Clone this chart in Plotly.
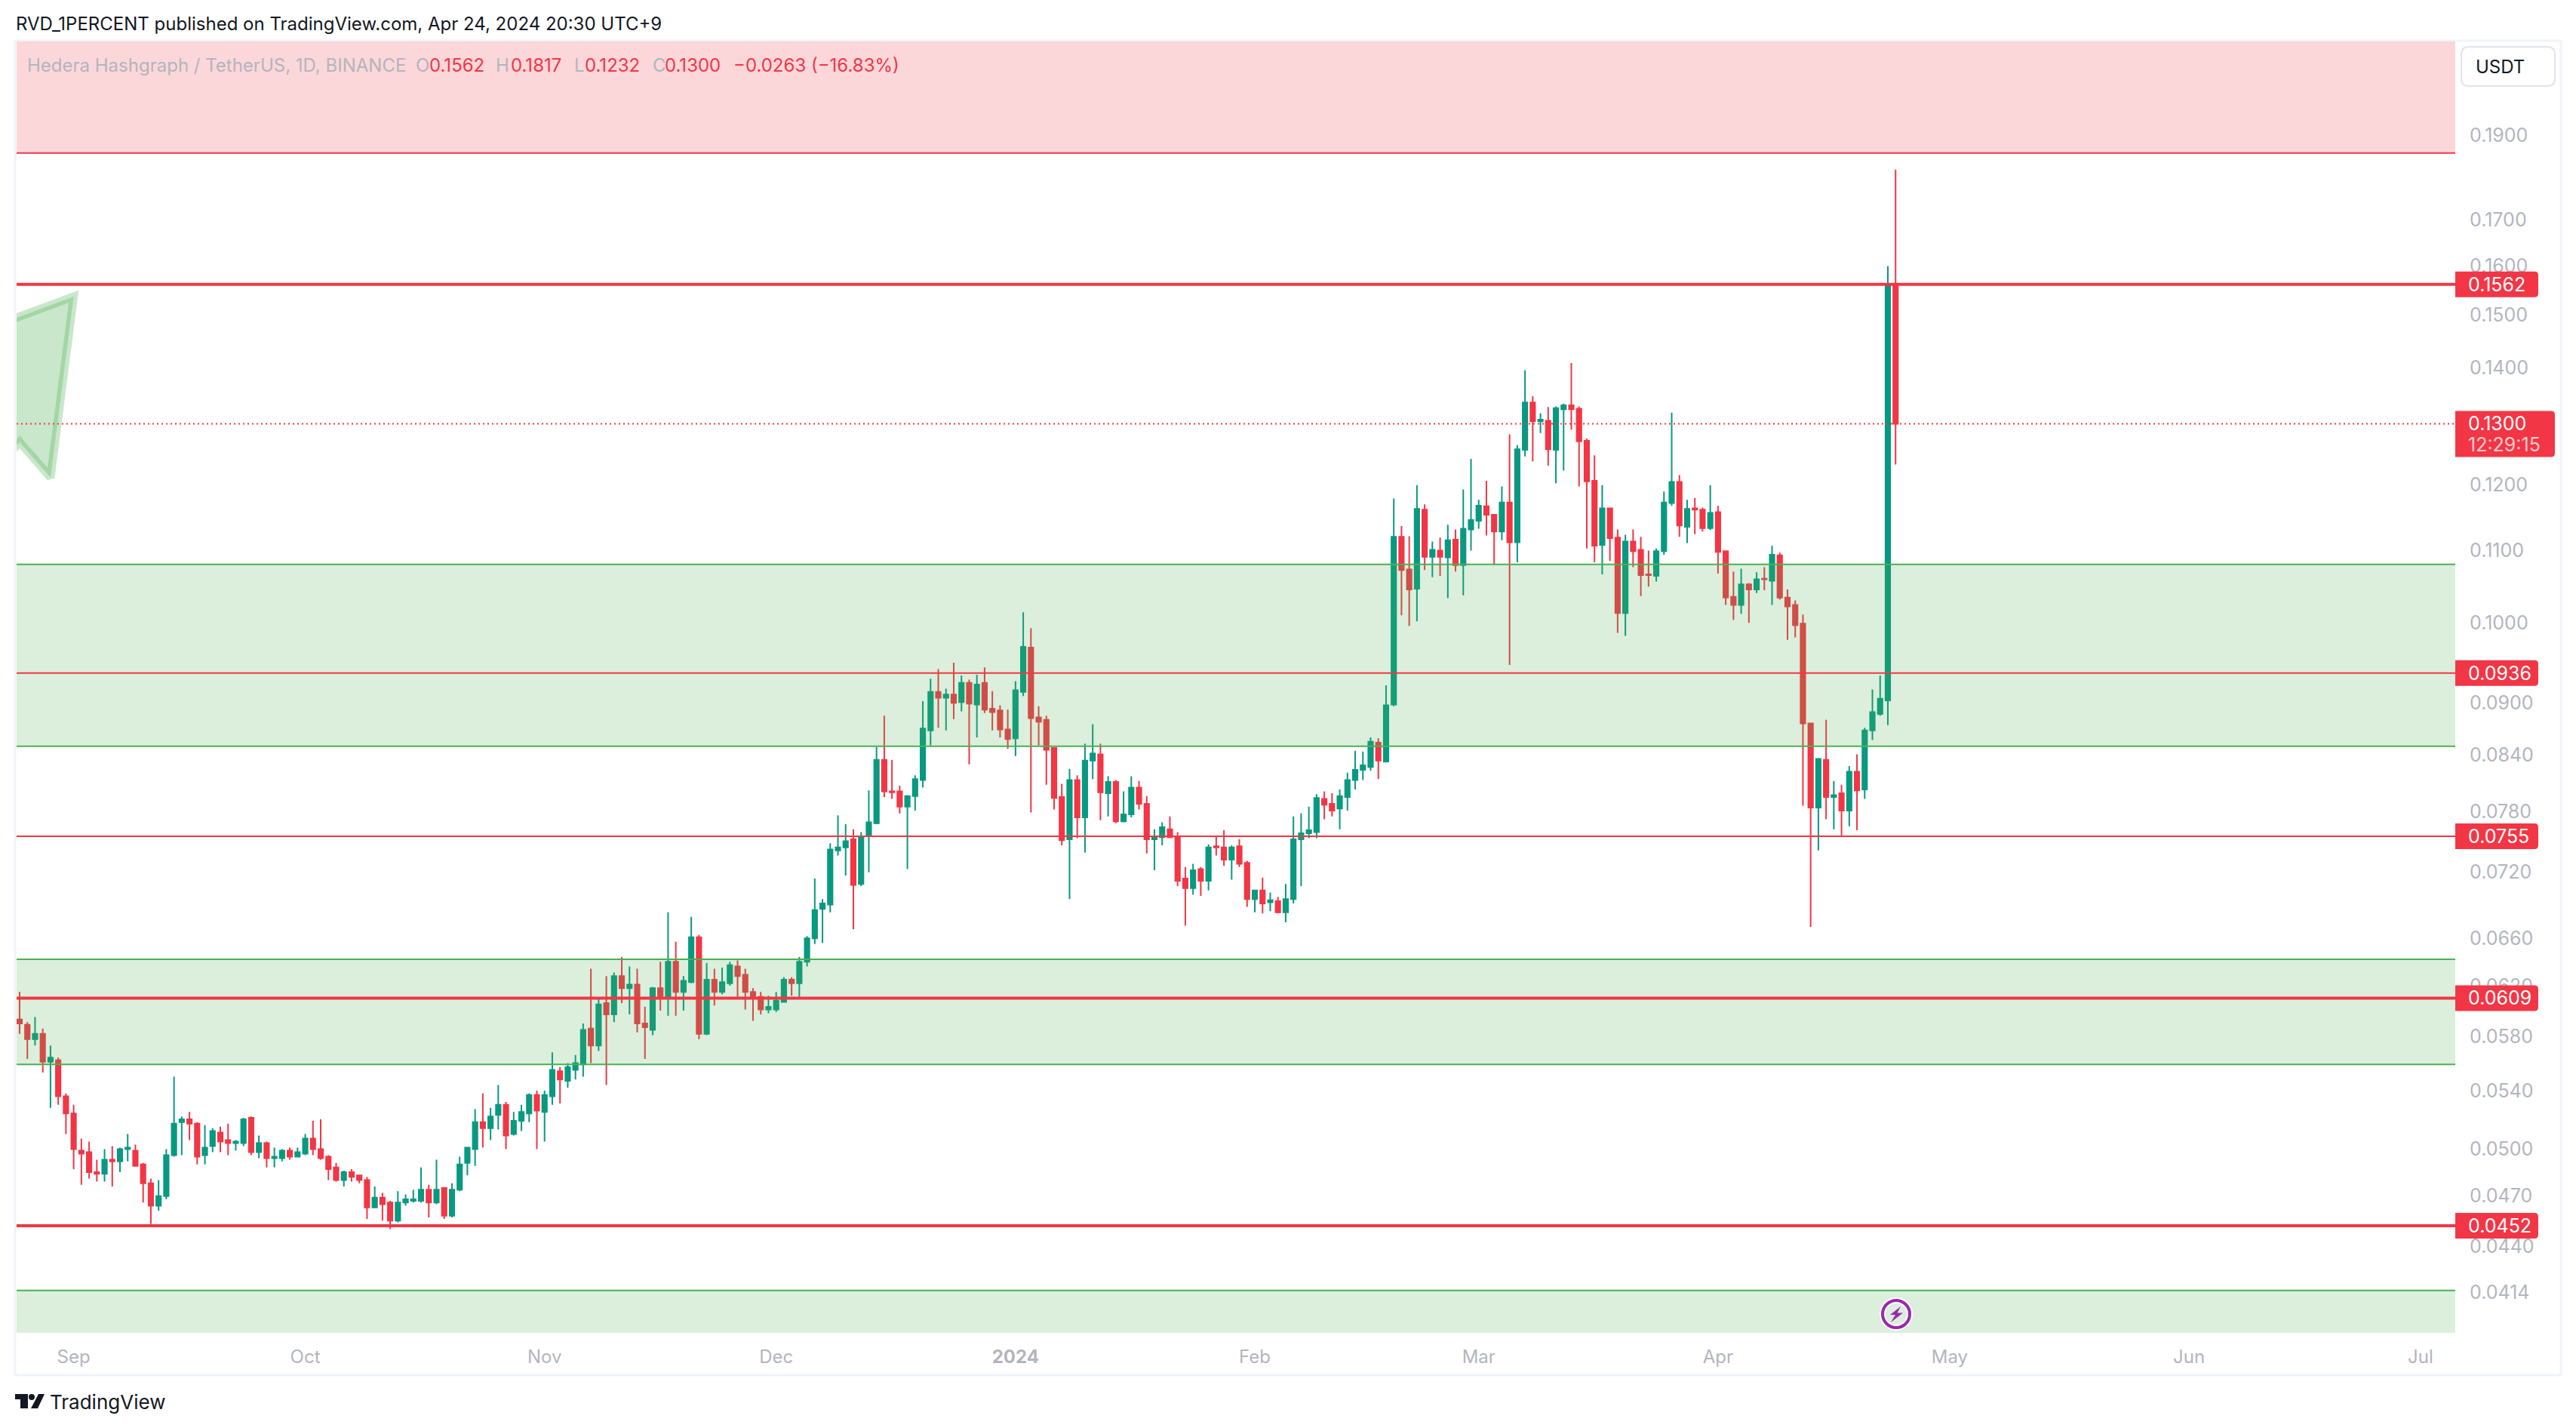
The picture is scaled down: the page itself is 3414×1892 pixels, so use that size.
import math
import pandas as pd
import plotly.graph_objects as go

# daily candles, Aug 25 2023 .. Apr 24 2024
dates = pd.date_range("2023-08-25", periods=244, freq="D")

open_ = [
    .0593, .0589, .0578, .0582, .0561, .0562, .0536, .0524, .0499, .0498,
    .0485, .0484, .0493, .0492, .0500, .0499, .0490, .0478, .0464, .0470,
    .0496, .0518, .0520, .0517, .0496, .0502, .0511, .0506, .0504, .0504,
    .0521, .0498, .0504, .0494, .0494, .0499, .0495, .0497, .0507, .0500,
    .0495, .0488, .0480, .0485, .0483, .0480, .0463, .0469, .0466, .0455,
    .0466, .0467, .0467, .0474, .0466, .0475, .0458, .0474, .0491, .0500,
    .0518, .0514, .0523, .0530, .0510, .0519, .0524, .0537, .0525, .0536,
    .0554, .0547, .0555, .0559, .0586, .0573,
    .0606, .0597, .0628, .0618, .0621, .0590, .0585, .0618, .0611, .0640,
    .0615, .0623, .0661, .0582, .0625, .0615, .0622, .0636, .0629, .0615,
    .0611, .0601, .0601, .0607, .0625, .0622, .0640, .0660, .0686, .0690,
    .0741, .0744, .0752, .0709, .0755,
    .0768, .0835, .0801, .0801, .0785, .0796, .0813, .0868, .0913, .0906,
    .0910, .0901, .0924, .0898, .0924, .0893, .0891, .0869, .0859, .0913,
    .0968, .0883, .0880, .0848, .0795, .0752, .0813, .0774, .0834, .0841,
    .0799, .0811, .0770, .0777, .0805, .0788, .0752, .0754, .0762, .0755,
    .0714, .0705, .0723, .0712, .0745, .0744, .0732, .0745, .0729, .0695,
    .0703, .0692, .0693, .0683, .0695, .0752, .0758, .0759, .0793, .0788,
    .0783, .0795, .0813, .0824, .0827, .0854, .0833,
    .0898, .1120, .1073, .1046, .1161, .1091, .1100, .1090, .1116, .1079,
    .1131, .1144, .1166, .1153, .1128, .1172, .1112, .1256, .1337, .1304,
    .1305, .1256, .1325, .1332, .1326, .1271, .1206, .1108, .1163, .1119,
    .1013, .1113, .1101, .1066, .1064, .1099, .1171, .1204, .1135, .1163,
    .1161, .1133, .1157, .1099, .1035, .1024, .1052, .1045, .1060, .1057,
    .1093, .1034, .1024, .0999, .0876, .0784, .0835, .0795, .0799, .0781,
    .0822, .0803, .0868, .0887, .0903, .1562,
]
high = [
    .0615, .0591, .0595, .0586, .0573, .0564, .0538, .0530, .0507, .0505,
    .0493, .0500, .0502, .0501, .0510, .0503, .0491, .0481, .0480, .0500,
    .0550, .0522, .0525, .0518, .0516, .0514, .0515, .0517, .0506, .0521,
    .0522, .0509, .0505, .0501, .0500, .0501, .0501, .0510, .0519, .0520,
    .0496, .0491, .0486, .0487, .0483, .0482, .0476, .0472, .0467, .0473,
    .0471, .0474, .0488, .0477, .0493, .0475, .0478, .0495, .0501, .0527,
    .0538, .0528, .0544, .0532, .0525, .0530, .0538, .0540, .0540, .0568,
    .0557, .0560, .0566, .0590, .0634, .0609,
    .0628, .0631, .0644, .0636, .0634, .0603, .0619, .0640, .0683, .0657,
    .0628, .0679, .0663, .0639, .0634, .0635, .0640, .0641, .0634, .0618,
    .0615, .0612, .0615, .0627, .0627, .0644, .0662, .0714, .0695, .0748,
    .0776, .0767, .0762, .0759, .0802,
    .0849, .0885, .0835, .0807, .0797, .0818, .0902, .0929, .0941, .0917,
    .0949, .0933, .0928, .0934, .0943, .0914, .0897, .0892, .0926, .1014,
    .0993, .0896, .0885, .0848, .0809, .0825, .0818, .0853, .0875, .0853,
    .0817, .0813, .0801, .0817, .0812, .0796, .0762, .0769, .0775, .0759,
    .0725, .0728, .0725, .0747, .0755, .0761, .0746, .0752, .0731, .0703,
    .0715, .0701, .0697, .0709, .0775, .0778, .0785, .0798, .0801, .0799,
    .0803, .0821, .0845, .0844, .0860, .0859, .0921,
    .1178, .1136, .1121, .1199, .1169, .1113, .1119, .1138, .1131, .1192,
    .1241, .1176, .1206, .1154, .1197, .1282, .1264, .1395, .1348, .1318,
    .1329, .1330, .1335, .1408, .1330, .1275, .1247, .1199, .1164, .1131,
    .1123, .1131, .1120, .1100, .1103, .1189, .1319, .1215, .1176, .1179,
    .1164, .1199, .1167, .1100, .1070, .1074, .1054, .1069, .1076, .1107,
    .1097, .1045, .1030, .1011, .0876, .0837, .0880, .0812, .0808, .0828,
    .0841, .0871, .0916, .0933, .1600, .1817,
]
low = [
    .0582, .0563, .0573, .0553, .0528, .0530, .0510, .0487, .0477, .0481,
    .0479, .0479, .0476, .0485, .0492, .0489, .0466, .0453, .0461, .0468,
    .0495, .0496, .0506, .0490, .0490, .0498, .0498, .0496, .0499, .0502,
    .0496, .0494, .0488, .0488, .0492, .0493, .0495, .0496, .0496, .0493,
    .0480, .0479, .0476, .0479, .0478, .0456, .0463, .0455, .0450, .0454,
    .0464, .0466, .0466, .0457, .0465, .0456, .0457, .0473, .0483, .0489,
    .0501, .0506, .0513, .0500, .0509, .0512, .0518, .0500, .0505, .0530,
    .0531, .0542, .0548, .0550, .0560, .0569,
    .0544, .0591, .0606, .0597, .0583, .0563, .0581, .0600, .0596, .0596,
    .0600, .0622, .0578, .0581, .0604, .0613, .0620, .0611, .0601, .0592,
    .0597, .0598, .0599, .0607, .0612, .0611, .0636, .0655, .0656, .0683,
    .0736, .0717, .0668, .0707, .0720,
    .0767, .0795, .0793, .0778, .0723, .0781, .0805, .0851, .0871, .0868,
    .0881, .0890, .0830, .0860, .0888, .0868, .0860, .0847, .0839, .0908,
    .0779, .0851, .0808, .0782, .0746, .0695, .0753, .0739, .0814, .0771,
    .0775, .0768, .0769, .0774, .0782, .0738, .0722, .0746, .0753, .0707,
    .0671, .0699, .0698, .0703, .0736, .0726, .0713, .0725, .0688, .0683,
    .0682, .0684, .0682, .0674, .0691, .0707, .0753, .0753, .0772, .0775,
    .0762, .0781, .0803, .0813, .0823, .0814, .0832,
    .0896, .1010, .0996, .1002, .1072, .1062, .1064, .1033, .1070, .1037,
    .1100, .1132, .1122, .1079, .1115, .0946, .1083, .1245, .1237, .1284,
    .1230, .1202, .1222, .1290, .1197, .1103, .1083, .1066, .1085, .0987,
    .0983, .1076, .1036, .1049, .1056, .1094, .1167, .1120, .1111, .1124,
    .1128, .1130, .1067, .1024, .1004, .1012, .1000, .1040, .1044, .1024,
    .1031, .0978, .0981, .0786, .0670, .0741, .0772, .0762, .0755, .0765,
    .0761, .0793, .0857, .0885, .0874, .1232,
]
close = [
    .0590, .0578, .0582, .0561, .0564, .0536, .0524, .0500, .0497, .0485,
    .0484, .0493, .0492, .0500, .0501, .0489, .0478, .0464, .0470, .0496,
    .0517, .0520, .0517, .0495, .0501, .0512, .0505, .0504, .0505, .0520,
    .0498, .0504, .0494, .0495, .0499, .0495, .0498, .0507, .0500, .0494,
    .0487, .0480, .0485, .0482, .0480, .0463, .0469, .0465, .0455, .0466,
    .0468, .0468, .0474, .0466, .0474, .0458, .0474, .0490, .0501, .0518,
    .0514, .0522, .0530, .0509, .0519, .0525, .0537, .0526, .0537, .0555,
    .0548, .0557, .0560, .0585, .0573, .0605,
    .0597, .0628, .0618, .0621, .0590, .0587, .0618, .0610, .0640, .0615,
    .0624, .0661, .0582, .0625, .0615, .0623, .0637, .0628, .0615, .0610,
    .0601, .0603, .0608, .0625, .0622, .0640, .0660, .0685, .0691, .0742,
    .0744, .0750, .0708, .0755, .0769,
    .0835, .0801, .0800, .0785, .0796, .0814, .0870, .0913, .0906, .0910,
    .0900, .0924, .0899, .0922, .0892, .0889, .0869, .0858, .0915, .0969,
    .0882, .0878, .0846, .0794, .0751, .0813, .0774, .0834, .0842, .0800,
    .0811, .0770, .0777, .0805, .0788, .0752, .0754, .0764, .0754, .0712,
    .0705, .0722, .0712, .0744, .0744, .0732, .0744, .0728, .0695, .0703,
    .0691, .0694, .0683, .0695, .0752, .0758, .0761, .0794, .0787, .0781,
    .0796, .0813, .0824, .0829, .0855, .0834, .0897,
    .1120, .1072, .1045, .1162, .1091, .1101, .1091, .1115, .1079, .1132,
    .1145, .1167, .1153, .1128, .1172, .1112, .1257, .1337, .1304, .1307,
    .1257, .1327, .1332, .1325, .1270, .1205, .1107, .1163, .1118, .1013,
    .1113, .1099, .1065, .1065, .1099, .1172, .1204, .1137, .1162, .1161,
    .1133, .1156, .1098, .1034, .1024, .1052, .1045, .1059, .1059, .1094,
    .1034, .1022, .0997, .0876, .0784, .0836, .0795, .0797, .0781, .0822,
    .0802, .0868, .0889, .0905, .1562, .1300,
]

# axis labels
price_ticks = [.19, .17, .16, .15, .14, .12, .11, .10, .09, .084, .078, .072,
               .066, .062, .058, .054, .05, .047, .044, .0414]
price_labels = ["0.1900", "0.1700", "0.1600", "0.1500", "0.1400", "0.1200", "0.1100",
                "0.1000", "0.0900", "0.0840", "0.0780", "0.0720", "0.0660", "0.0620",
                "0.0580", "0.0540", "0.0500", "0.0470", "0.0440", "0.0414"]
month_ticks = ["2023-09-01", "2023-10-01", "2023-11-01", "2023-12-01", "2024-01-01",
               "2024-02-01", "2024-03-01", "2024-04-01", "2024-05-01", "2024-06-01",
               "2024-07-01"]
month_labels = ["Sep", "Oct", "Nov", "Dec", "<b>2024</b>", "Feb", "Mar", "Apr", "May", "Jun", "Jul"]

# drawings on the chart: (bottom, top) of the zones, levels as (drawn at, width, label)
green_zones = [(.0850, .1080), (.0559, .0642), (.0300, .0415)]
red_zone = (.1857, .4000)
levels = [(.1562, 4, "0.1562"), (.0936, 2, "0.0936"), (.0755, 2, "0.0755"),
          (.0610, 4, "0.0609"), (.0452, 4, "0.0452")]
last_price = .1300

arrow_dates = ["2023-08-20", "2023-09-01", "2023-08-29", "2023-08-25", "2023-08-20", "2023-08-20"]
arrow_prices = [.1469, .1537, .1211, .1269, .1198, .1469]

# legend pieces: text, colour name, left edge
legend_parts = [
    ("Hedera Hashgraph / TetherUS, 1D, BINANCE", "grey", 36),
    ("O", "grey", 551), ("0.1562", "red", 569),
    ("H", "grey", 657), ("0.1817", "red", 677),
    ("L", "grey", 761), ("0.1232", "red", 775),
    ("C", "grey", 865), ("0.1300", "red", 881),
    ("−0.0263 (−16.83%)", "red", 972),
]

GREEN = "#089981"
RED = "#F23645"
ZONE = "#4CAF50"
GREY = "#B2B5BE"
INK = "#131722"
FONT = "Inter"

W, H = 3414, 1892
LEFT, RIGHT, TOP, BOTTOM = 22, 3254, 55, 1766
Y_RANGE = [-1.4062, -0.6674]


def px(x):
    return (x - LEFT) / (RIGHT - LEFT)


def py(y):
    return (BOTTOM - y) / (BOTTOM - TOP)


def price_y(p):
    return (math.log10(p) - Y_RANGE[0]) / (Y_RANGE[1] - Y_RANGE[0])


def price_pixel(p):
    return BOTTOM - price_y(p) * (BOTTOM - TOP)


def poly(points):
    return "M" + " L".join(f"{px(x):.5f},{py(y):.5f}" for x, y in points) + " Z"


def tag_path(x0, x1, y_top, y_bot, r=5):
    # rounded on the right only
    a, b = px(x1 - r), px(x1)
    t, t2, b2, bt = py(y_top), py(y_top + r), py(y_bot - r), py(y_bot)
    return (f"M{px(x0):.5f},{t:.5f} L{a:.5f},{t:.5f} Q{b:.5f},{t:.5f} {b:.5f},{t2:.5f} "
            f"L{b:.5f},{b2:.5f} Q{b:.5f},{bt:.5f} {a:.5f},{bt:.5f} L{px(x0):.5f},{bt:.5f} Z")


def button_path(x0, x1, y_top, y_bot, r=10):
    l, l2, a, b = px(x0), px(x0 + r), px(x1 - r), px(x1)
    t, t2, b2, bt = py(y_top), py(y_top + r), py(y_bot - r), py(y_bot)
    return (f"M{l2:.5f},{t:.5f} L{a:.5f},{t:.5f} Q{b:.5f},{t:.5f} {b:.5f},{t2:.5f} "
            f"L{b:.5f},{b2:.5f} Q{b:.5f},{bt:.5f} {a:.5f},{bt:.5f} L{l2:.5f},{bt:.5f} "
            f"Q{l:.5f},{bt:.5f} {l:.5f},{b2:.5f} L{l:.5f},{t2:.5f} Q{l:.5f},{t:.5f} {l2:.5f},{t:.5f} Z")


def label(text, x, y, color, size=24):
    return dict(xref="paper", yref="paper", x=px(x), y=py(y), xanchor="left", yanchor="middle",
                text=text, showarrow=False, borderpad=0, borderwidth=0,
                font=dict(family=FONT, size=size, color=color))


fig = go.Figure()
fig.add_trace(go.Candlestick(
    x=dates, open=open_, high=high, low=low, close=close,
    increasing=dict(line=dict(color=GREEN, width=2), fillcolor=GREEN),
    decreasing=dict(line=dict(color=RED, width=2), fillcolor=RED),
    whiskerwidth=0, showlegend=False,
))
fig.add_trace(go.Scatter(
    x=arrow_dates, y=arrow_prices, mode="lines", fill="toself",
    fillcolor="rgba(76,175,80,0.3)", line=dict(color="rgba(76,175,80,0.3)", width=11),
    showlegend=False,
))

shapes = []
# frame around the chart
shapes.append(dict(type="rect", xref="paper", yref="paper", x0=px(20), x1=px(3394), y0=py(54), y1=py(1822),
                   line=dict(color="#F0F3FA", width=3), layer="below"))
# zones sit over the candles, that is why candles look washed out inside them
for lo, hi in green_zones:
    shapes.append(dict(type="rect", xref="paper", yref="y", x0=0, x1=1, y0=lo, y1=hi, layer="above",
                       fillcolor="rgba(76,175,80,0.2)", line=dict(width=0)))
    shapes.append(dict(type="line", xref="paper", yref="y", x0=0, x1=1, y0=hi, y1=hi, layer="above",
                       line=dict(color=ZONE, width=2)))
    if lo > .04:
        shapes.append(dict(type="line", xref="paper", yref="y", x0=0, x1=1, y0=lo, y1=lo, layer="above",
                           line=dict(color=ZONE, width=2)))
shapes.append(dict(type="rect", xref="paper", yref="y", x0=0, x1=1, y0=red_zone[0], y1=red_zone[1], layer="above",
                   fillcolor="rgba(242,54,69,0.2)", line=dict(width=0)))
shapes.append(dict(type="line", xref="paper", yref="y", x0=0, x1=1, y0=red_zone[0], y1=red_zone[0], layer="above",
                   line=dict(color=RED, width=2)))
for price, width, _ in levels:
    shapes.append(dict(type="line", xref="paper", yref="y", x0=0, x1=1, y0=price, y1=price, layer="above",
                       line=dict(color=RED, width=width)))
shapes.append(dict(type="line", xref="paper", yref="y", x0=0, x1=1, y0=last_price, y1=last_price, layer="above",
                   line=dict(color=RED, width=2, dash="2px,4px")))

annotations = []
# price tags on the scale
for price, width, text in levels:
    yp = price_pixel(price)
    shapes.append(dict(type="path", xref="paper", yref="paper", layer="above",
                       path=tag_path(RIGHT, 3364, yp - 17, yp + 17), fillcolor=RED, line=dict(width=0)))
    annotations.append(label(text, 3271, yp, "white", 25))
yp = price_pixel(last_price)
shapes.append(dict(type="path", xref="paper", yref="paper", layer="above",
                   path=tag_path(RIGHT, 3386, yp - 17, yp + 44), fillcolor=RED, line=dict(width=0)))
annotations.append(label(f"{last_price:.4f}", 3271, yp, "white", 25))
annotations.append(label("12:29:15", 3271, yp + 28, "rgba(255,255,255,0.75)", 25))

# currency button
shapes.append(dict(type="path", xref="paper", yref="paper", layer="above", path=button_path(3262, 3386, 62, 114),
                   fillcolor="white", line=dict(color="#E0E3EB", width=2)))
annotations.append(label("USDT", 3281, 88, INK, 24))

# lightning mark
cx, cy = 2513, 1741
for color, lw in (("white", 8), ("#9C27B0", 4)):
    shapes.append(dict(type="circle", xref="paper", yref="paper", layer="above", x0=px(cx - 18), x1=px(cx + 18),
                       y0=py(cy + 18), y1=py(cy - 18), line=dict(color=color, width=lw)))
bolt = [(6, -10), (-8, 1), (-1, 1), (-7, 11), (9, -1.5), (1.5, -1.5)]
shapes.append(dict(type="path", xref="paper", yref="paper", layer="above",
                   path=poly([(cx + a, cy + b) for a, b in bolt]), fillcolor="#9C27B0", line=dict(width=0)))

# TradingView logo
logo = [
    [(20, 1847), (37, 1847), (37, 1866), (27, 1866), (27, 1854), (20, 1854)],
    [(51, 1847), (59, 1847), (50, 1866), (41, 1866)],
]
for piece in logo:
    shapes.append(dict(type="path", xref="paper", yref="paper", path=poly(piece), fillcolor=INK, line=dict(width=0)))
shapes.append(dict(type="circle", xref="paper", yref="paper", x0=px(38), x1=px(46), y0=py(1855), y1=py(1847),
                   fillcolor=INK, line=dict(width=0)))

annotations.append(label("RVD_1PERCENT published on TradingView.com, Apr 24, 2024 20:30 UTC+9", 21, 32, INK, 24))
annotations.append(label("TradingView", 66, 1857, INK, 26))
for text, tone, x in legend_parts:
    annotations.append(label(text, x, 86, RED if tone == "red" else GREY, 24))

fig.update_layout(
    width=W, height=H, autosize=False,
    margin=dict(l=LEFT, r=W - RIGHT, t=TOP, b=H - BOTTOM, pad=0, autoexpand=False),
    paper_bgcolor="white", plot_bgcolor="white",
    boxgap=0.4, boxgroupgap=0,
    showlegend=False,
    shapes=shapes, annotations=annotations,
    xaxis=dict(
        type="date", range=["2023-08-24 14:38", "2024-07-05 12:00"], rangeslider=dict(visible=False),
        tickmode="array", tickvals=month_ticks, ticktext=month_labels, showgrid=False, zeroline=False,
        ticks="outside", ticklen=10, tickcolor="rgba(0,0,0,0)", tickangle=0,
        tickfont=dict(family=FONT, size=24, color=GREY),
    ),
    yaxis=dict(
        type="log", side="right", range=Y_RANGE, tickmode="array", tickvals=price_ticks, ticktext=price_labels,
        showgrid=False, zeroline=False, ticks="outside", ticklen=13, tickcolor="rgba(0,0,0,0)",
        tickfont=dict(family=FONT, size=25, color=GREY),
    ),
)

fig.write_html("out.html", config={"displayModeBar": False}, post_script="document.body.style.margin='0';")
